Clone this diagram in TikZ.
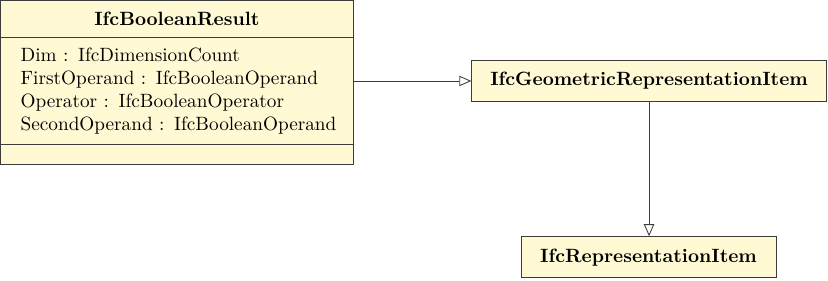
\documentclass[tikz,border=0pt]{standalone}
\usetikzlibrary{positioning,arrows.meta}

\definecolor{classfill}{RGB}{255,249,212}
\definecolor{classline}{RGB}{60,60,60}

\tikzset{
  classbox/.style={draw=classline, fill=classfill, line width=0.45pt,
    rectangle, inner sep=0pt, font=\bfseries},
  attrbox/.style={fill=classfill, rectangle, inner xsep=0.37cm,
    inner ysep=0pt, align=left},
  inherit/.style={draw=classline, line width=0.45pt,
    -{Triangle[open, length=0.22cm, width=0.19cm]}}
}

\begin{document}
\begin{tikzpicture}
\useasboundingbox (0,0) rectangle (15.13,5.12);
% IfcBooleanResult with its attribute and operation parts
\node[classbox, minimum width=6.45cm, minimum height=0.676cm, anchor=north west]
  (result) at (0,5.12) {IfcBooleanResult};
\node[attrbox, minimum width=6.45cm, minimum height=1.94cm, text width=5.71cm,
  below=0pt of result] (result-attr)
  {\begin{tabular}{@{}l@{}}
   Dim : IfcDimensionCount\\
   FirstOperand : IfcBooleanOperand\\
   Operator : IfcBooleanOperator\\
   SecondOperand : IfcBooleanOperand
   \end{tabular}};
\node[attrbox, minimum width=6.45cm, minimum height=0.35cm,
  below=0pt of result-attr] (result-op) {};
\draw[classline, line width=0.45pt] (result.south west) rectangle (result-op.south east);
\draw[classline, line width=0.45pt] (result-op.north west) -- (result-op.north east);
% supertypes
\node[classbox, minimum width=6.48cm, minimum height=0.76cm] (geo) at (11.86,3.64)
  {IfcGeometricRepresentationItem};
\node[classbox, minimum width=4.66cm, minimum height=0.75cm] (rep) at (11.85,0.42)
  {IfcRepresentationItem};
% inheritance
\draw[inherit] (result-attr.east |- geo.west) -- (geo.west);
\draw[inherit] (geo.south) -- (geo.south |- rep.north);
\end{tikzpicture}
\end{document}
